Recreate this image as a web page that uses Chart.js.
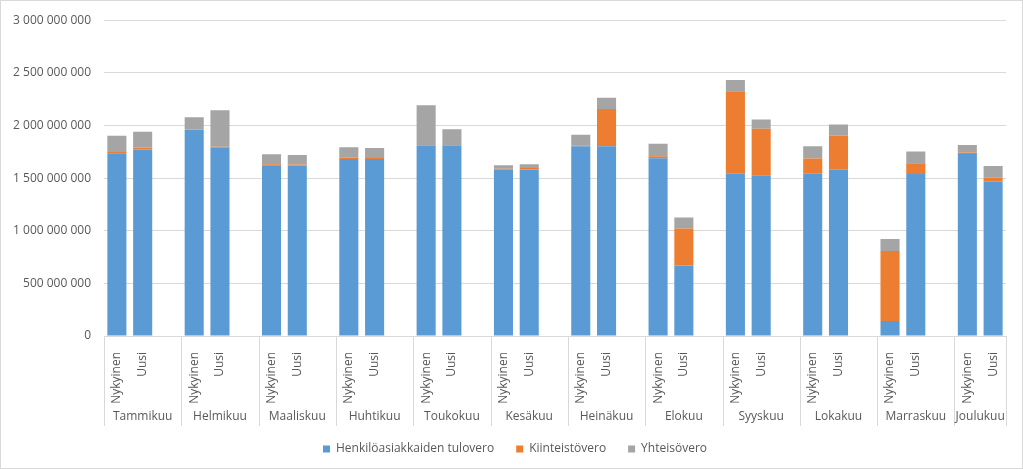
<!DOCTYPE html>
<html>
<head>
<meta charset="utf-8">
<script src="https://cdn.jsdelivr.net/npm/chart.js@4/dist/chart.umd.min.js"></script>
<style>
  html, body { margin: 0; padding: 0; background: #fff; }
  #chart { display: block; outline: 1px solid #d9d9d9; outline-offset: -1px; }
</style>
</head>
<body>
<canvas id="chart" width="1023" height="469"></canvas>
<script>
'use strict';

const MONTHS = [
  'Tammikuu', 'Helmikuu', 'Maaliskuu', 'Huhtikuu', 'Toukokuu', 'Kesäkuu',
  'Heinäkuu', 'Elokuu', 'Syyskuu', 'Lokakuu', 'Marraskuu', 'Joulukuu',
];
const VARIANTS = ['Nykyinen', 'Uusi'];

// millions of euros, per month: [Nykyinen, Uusi]
const TULOVERO = [
  [1735, 1771], [1956, 1789], [1623, 1620], [1682, 1682], [1805, 1805], [1582, 1582],
  [1802, 1802], [1689, 670], [1541, 1528], [1541, 1579], [142, 1538], [1730, 1465],
];
const KIINTEISTOVERO = [
  [12, 20], [5, 10], [8, 10], [12, 10], [8, 8], [8, 15],
  [5, 355], [19, 352], [783, 441], [145, 324], [666, 104], [13, 38],
];
const YHTEISOVERO = [
  [156, 149], [118, 346], [95, 90], [98, 94], [379, 152], [33, 35],
  [105, 107], [119, 104], [107, 88], [116, 106], [113, 110], [72, 113],
];

const Y_TICKS = [0, 500e6, 1000e6, 1500e6, 2000e6, 2500e6, 3000e6];

const COLORS = { tulo: '#5b9bd5', kiint: '#ed7d31', yht: '#a5a5a5' };
const FONT = '"Open Sans", sans-serif';
const TEXT = '#595959';
const GRID = '#d9d9d9';

// each month gets two bars and a blank slot, except the last one
const labels = [];
const monthOfSlot = [];
MONTHS.forEach((month, m) => {
  VARIANTS.forEach(v => { labels.push(v); monthOfSlot.push(m); });
  if (m < MONTHS.length - 1) { labels.push(''); monthOfSlot.push(m); }
});

function slotValues(series) {
  const out = [];
  series.forEach((pair, m) => {
    pair.forEach(v => out.push(v * 1e6));
    if (m < series.length - 1) out.push(null);
  });
  return out;
}

function formatNumber(v) {
  return String(v).replace(/\B(?=(\d{3})+(?!\d))/g, ' ');
}

const monthAxisPlugin = {
  id: 'monthAxis',
  afterLayout(chart) {
    // legend sits a bit right of the canvas centre in the original
    chart.legend.left += 12;
    chart.legend.right += 12;
  },
  afterDraw(chart) {
    const x = chart.scales.x;
    const { ctx } = chart;
    const top = x.top;
    const bottom = x.top + 90;
    const bounds = [];
    for (let m = 0; m < MONTHS.length; m++) {
      const first = monthOfSlot.indexOf(m);
      bounds.push(first === 0 ? x.left
        : (x.getPixelForValue(first - 1) + x.getPixelForValue(first)) / 2);
    }
    bounds.push(x.right);

    ctx.save();
    ctx.strokeStyle = GRID;
    ctx.lineWidth = 1;
    ctx.beginPath();
    bounds.forEach(b => {
      const px = Math.round(b) + 0.5;
      ctx.moveTo(px, top);
      ctx.lineTo(px, bottom);
    });
    ctx.stroke();

    ctx.fillStyle = TEXT;
    ctx.font = '12px ' + FONT;
    ctx.textAlign = 'center';
    ctx.textBaseline = 'middle';
    MONTHS.forEach((month, m) => {
      ctx.fillText(month, (bounds[m] + bounds[m + 1]) / 2, top + 81);
    });
    ctx.restore();
  },
};

new Chart(document.getElementById('chart').getContext('2d'), {
  type: 'bar',
  data: {
    labels,
    datasets: [
      { label: 'Henkilöasiakkaiden tulovero', data: slotValues(TULOVERO), backgroundColor: COLORS.tulo },
      { label: 'Kiinteistövero', data: slotValues(KIINTEISTOVERO), backgroundColor: COLORS.kiint },
      { label: 'Yhteisövero', data: slotValues(YHTEISOVERO), backgroundColor: COLORS.yht },
    ],
  },
  options: {
    responsive: false,
    animation: false,
    layout: { padding: { top: 17, right: 17, left: 0, bottom: 4 } },
    datasets: { bar: { categoryPercentage: 1, barPercentage: 0.74, borderWidth: 0 } },
    plugins: {
      tooltip: { enabled: false },
      legend: {
        position: 'bottom',
        labels: {
          color: TEXT,
          font: { family: FONT, size: 12 },
          boxWidth: 7,
          boxHeight: 7,
          padding: 22,
        },
      },
    },
    scales: {
      x: {
        stacked: true,
        grid: { display: false },
        border: { display: true, color: GRID },
        ticks: {
          color: TEXT,
          font: { family: FONT, size: 12 },
          minRotation: 90,
          maxRotation: 90,
          autoSkip: false,
          padding: 8,
        },
        afterFit(scale) { scale.height = 85; },
      },
      y: {
        stacked: true,
        min: 0,
        max: 3000e6,
        afterBuildTicks(scale) { scale.ticks = Y_TICKS.map(value => ({ value })); },
        grid: { color: GRID, drawTicks: false },
        border: { display: false },
        ticks: {
          color: TEXT,
          font: { family: FONT, size: 12 },
          padding: 13,
          callback: formatNumber,
        },
        afterFit(scale) { scale.width = 104; },
      },
    },
  },
  plugins: [monthAxisPlugin],
});
</script>
</body>
</html>
